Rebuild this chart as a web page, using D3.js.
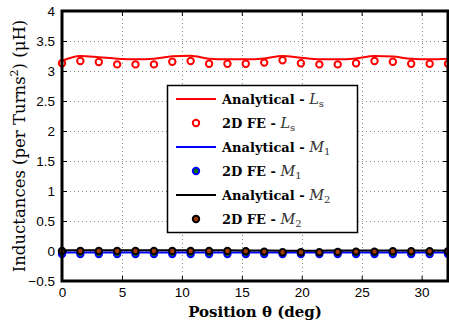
<!DOCTYPE html>
<html><head><meta charset="utf-8">
<script src="https://cdn.jsdelivr.net/npm/d3@7"></script>
<style>body{margin:0;background:#fff}svg{display:block}</style>
</head><body>
<script>
const theta = [0, 1.53, 3.07, 4.6, 6.13, 7.67, 9.2, 10.73, 12.27, 13.8, 15.33, 16.87, 18.4, 19.93, 21.47, 23, 24.53, 26.07, 27.6, 29.13, 30.67, 32.2];
const lsAnalytical = [3.17, 3.25, 3.23, 3.205, 3.195, 3.205, 3.245, 3.255, 3.205, 3.195, 3.195, 3.21, 3.25, 3.22, 3.195, 3.195, 3.21, 3.25, 3.24, 3.205, 3.195, 3.205];
const lsFE = [3.13, 3.167, 3.15, 3.11, 3.11, 3.11, 3.155, 3.167, 3.12, 3.12, 3.12, 3.14, 3.18, 3.128, 3.11, 3.11, 3.128, 3.167, 3.155, 3.12, 3.12, 3.12];
const m1Analytical = [-0.025, -0.025, -0.025, -0.025, -0.025, -0.025, -0.025, -0.025, -0.025, -0.025, -0.025, -0.025, -0.025, -0.025, -0.025, -0.025, -0.025, -0.025, -0.025, -0.025, -0.025, -0.025];
const m1FE = [-0.05, -0.05, -0.05, -0.05, -0.05, -0.05, -0.05, -0.05, -0.05, -0.05, -0.05, -0.05, -0.05, -0.05, -0.05, -0.05, -0.05, -0.05, -0.05, -0.05, -0.05, -0.05];
const m2Analytical = [0.012, 0.012, 0.012, 0.012, 0.012, 0.012, 0.012, 0.012, 0.012, 0.012, 0.01, 0.008, 0.005, 0.005, 0.005, 0.008, 0.008, 0.01, 0.01, 0.01, 0.01, 0.01];
const m2FE = [0.0, 0.0, 0.0, 0.0, 0.0, 0.0, 0.0, 0.0, 0.0, 0.0, -0.005, -0.01, -0.02, -0.02, -0.02, -0.015, -0.01, -0.01, -0.005, -0.005, -0.005, -0.005];
const xTicks = [0, 5, 10, 15, 20, 25, 30];
const yTicks = [-0.5, 0, 0.5, 1, 1.5, 2, 2.5, 3, 3.5, 4];

const W = 449, H = 329;
const L = 62, T = 11, R = 448, B = 281;
const svg = d3.select("body").append("svg").attr("width", W).attr("height", H);
const x = d3.scaleLinear().domain([0, 32.2]).range([L, R]);
const y = d3.scaleLinear().domain([-0.5, 4]).range([B, T]);

// grid
const grid = svg.append("g").attr("stroke", "#888").attr("stroke-width", 1).attr("stroke-dasharray", "1,3");
grid.selectAll(".gx").data(xTicks.filter(d => d > 0)).join("line")
  .attr("x1", d => Math.round(x(d)) + 0.5).attr("x2", d => Math.round(x(d)) + 0.5).attr("y1", T).attr("y2", B);
grid.selectAll(".gy").data(yTicks.filter(d => d > -0.5 && d < 4)).join("line")
  .attr("y1", d => Math.round(y(d)) + 0.5).attr("y2", d => Math.round(y(d)) + 0.5).attr("x1", L).attr("x2", R);

// axes
const fmt = d => (d < 0 ? "\u2212" : "") + String(Math.abs(d));
svg.append("g").attr("transform", `translate(0,${B})`)
  .call(d3.axisBottom(x).tickValues(xTicks).tickSize(-5).tickPadding(6).tickFormat(d3.format("d")));
svg.append("g").attr("transform", `translate(${L},0)`)
  .call(d3.axisLeft(y).tickValues(yTicks).tickSize(-5).tickPadding(7).tickFormat(fmt));
svg.append("g").attr("transform", `translate(${R},0)`)
  .call(d3.axisRight(y).tickValues(yTicks).tickSize(-5).tickFormat(""));
svg.append("g").attr("transform", `translate(0,${T})`)
  .call(d3.axisTop(x).tickValues(xTicks).tickSize(-5).tickFormat(""));
svg.selectAll(".domain").remove();
svg.selectAll(".tick line").attr("stroke", "#000").attr("stroke-width", 1);
svg.selectAll(".tick text").attr("font-family", "'Liberation Sans', Arial, sans-serif").attr("font-size", 13.5).attr("fill", "#000");

// data
const series = [
  {line: lsAnalytical, pts: lsFE, lc: "#ff0000", stroke: "#ff0000", fill: "none"},
  {line: m1Analytical, pts: m1FE, lc: "#0000ff", stroke: "#0000ff", fill: "#007700"},
  {line: m2Analytical, pts: m2FE, lc: "#000000", stroke: "#000000", fill: "#a33a00"}
];
const lineGen = d3.line().x((d, i) => x(theta[i])).y(d => y(d)).curve(d3.curveMonotoneX);
const plot = svg.append("g");
series.forEach(s => {
  plot.append("path").attr("d", lineGen(s.line)).attr("fill", "none").attr("stroke", s.lc).attr("stroke-width", 2);
  plot.selectAll(null).data(s.pts).join("circle")
    .attr("cx", (d, i) => x(theta[i])).attr("cy", d => y(d)).attr("r", 3.2)
    .attr("fill", s.fill).attr("stroke", s.stroke).attr("stroke-width", 2);
});

// frame
svg.append("rect").attr("x", L).attr("y", T).attr("width", R - L).attr("height", B - T)
  .attr("fill", "none").attr("stroke", "#000").attr("stroke-width", 3);

// legend
const lg = svg.append("g");
lg.append("rect").attr("x", 167.5).attr("y", 85.5).attr("width", 190).attr("height", 147)
  .attr("fill", "#fff").attr("stroke", "#000").attr("stroke-width", 1.5);
const legendNames = ["Analytical - ", "2D FE - ", "Analytical - ", "2D FE - ", "Analytical - ", "2D FE - "];
const legendSym = ["L", "L", "M", "M", "M", "M"];
const legendSub = ["s", "s", "1", "1", "2", "2"];
const rowsY = [99, 123, 147, 171, 195, 219];
legendNames.forEach((nm, i) => {
  const s = series[Math.floor(i / 2)];
  const yy = rowsY[i];
  if (i % 2 === 0) {
    lg.append("line").attr("x1", 176).attr("x2", 216).attr("y1", yy).attr("y2", yy).attr("stroke", s.lc).attr("stroke-width", 2);
  } else {
    lg.append("circle").attr("cx", 196).attr("cy", yy).attr("r", 3.2).attr("fill", s.fill).attr("stroke", s.stroke).attr("stroke-width", 2);
  }
  const t = lg.append("text").attr("x", 222).attr("y", yy + 5)
    .attr("font-family", "'DejaVu Serif', serif").attr("font-size", 13).attr("fill", "#000");
  t.append("tspan").attr("font-weight", "bold").text(nm);
  t.append("tspan").attr("font-style", "italic").attr("fill", "#333").attr("font-size", 14.5).text(legendSym[i]);
  t.append("tspan").attr("font-size", 10).attr("fill", "#333").attr("dy", 3).text(legendSub[i]);
});

// axis labels
svg.append("text").attr("x", 255).attr("y", 317).attr("text-anchor", "middle")
  .attr("font-family", "'DejaVu Serif', serif").attr("font-weight", "bold").attr("font-size", 15)
  .text("Position \u03B8 (deg)");
const yl = svg.append("text").attr("transform", "translate(25,146) rotate(-90)").attr("text-anchor", "middle")
  .attr("font-family", "'DejaVu Serif', serif").attr("font-size", 16.5);
yl.append("tspan").text("Inductances (per Turns");
yl.append("tspan").attr("font-size", 11).attr("dy", -7).text("2");
yl.append("tspan").attr("dy", 7).text(") (\u03BCH)");
</script>
</body></html>
